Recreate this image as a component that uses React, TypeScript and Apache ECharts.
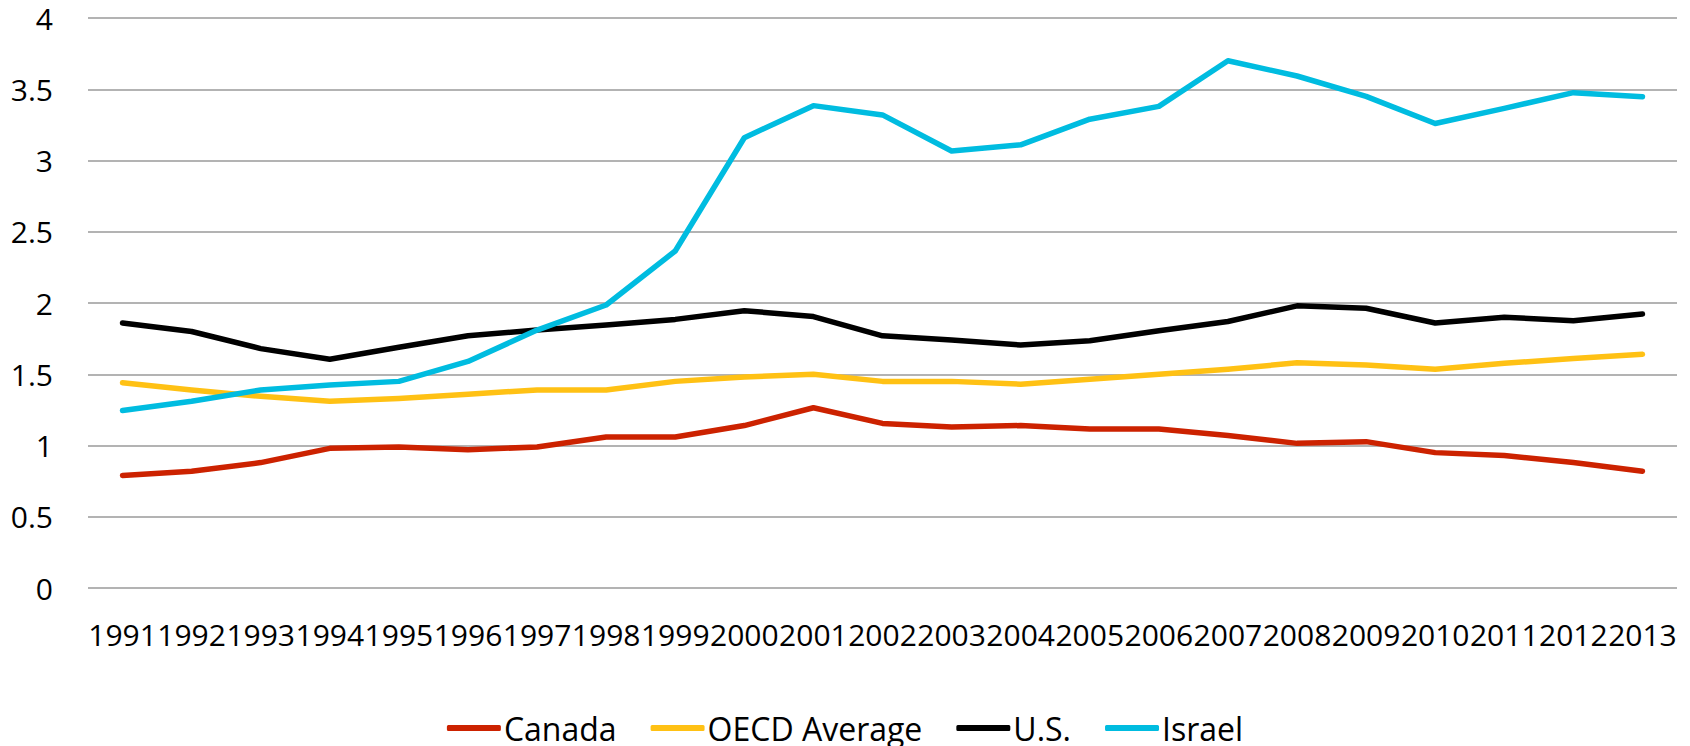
import React, { useEffect, useRef } from "react";
import * as echarts from "echarts";

const years = ["1991","1992","1993","1994","1995","1996","1997","1998","1999","2000","2001","2002","2003","2004","2005","2006","2007","2008","2009","2010","2011","2012","2013"];
const canada = [0.79,0.82,0.88,0.98,0.99,0.97,0.99,1.06,1.06,1.14,1.265,1.155,1.13,1.14,1.115,1.115,1.07,1.015,1.027,0.95,0.93,0.88,0.82];
const oecd = [1.44,1.39,1.345,1.31,1.33,1.36,1.39,1.39,1.45,1.48,1.5,1.45,1.45,1.43,1.465,1.5,1.535,1.58,1.565,1.535,1.577,1.61,1.64];
const us = [1.86,1.8,1.68,1.605,1.69,1.77,1.81,1.845,1.885,1.946,1.905,1.77,1.74,1.705,1.735,1.805,1.87,1.98,1.963,1.86,1.9,1.876,1.923];
const israel = [1.245,1.31,1.39,1.425,1.45,1.59,1.81,1.986,2.365,3.16,3.385,3.32,3.067,3.11,3.29,3.38,3.7,3.593,3.45,3.26,3.366,3.476,3.448];
const seriesNames = ["Canada", "OECD Average", "U.S.", "Israel"];
const colors = ["#cc2200", "#ffc114", "#000000", "#00bce0"];

export default function App() {
  const ref = useRef<HTMLDivElement>(null);
  useEffect(() => {
    if (!ref.current) return;
    const chart = echarts.init(ref.current, null, { renderer: "svg" });
    const font = "'Open Sans', sans-serif";
    const data = [canada, oecd, us, israel];
    chart.setOption({
      animation: false,
      color: colors,
      textStyle: { fontFamily: font },
      grid: { left: 88, right: 13, top: 18, bottom: 158 },
      legend: {
        data: seriesNames,
        left: "center",
        top: 707,
        icon: "roundRect",
        itemWidth: 54,
        itemHeight: 6,
        itemGap: 34,
        textStyle: { fontSize: 32, color: "#000", fontFamily: font, padding: [0, 0, 0, -2] },
      },
      xAxis: {
        type: "category",
        data: years,
        boundaryGap: true,
        axisLine: { show: false },
        axisTick: { show: false },
        axisLabel: { fontSize: 30, color: "#000", margin: 31, interval: 0, fontFamily: font },
      },
      yAxis: {
        type: "value",
        min: 0,
        max: 4,
        interval: 0.5,
        axisLine: { show: false },
        axisTick: { show: false },
        axisLabel: { fontSize: 30, color: "#000", margin: 35, fontFamily: font },
        splitLine: { lineStyle: { color: "#9a9a9a", width: 1.5 } },
      },
      series: seriesNames.map((name, i) => ({
        name,
        type: "line",
        data: data[i],
        symbol: "none",
        lineStyle: { width: 5.5, color: colors[i], cap: "round", join: "round" },
        itemStyle: { color: colors[i] },
      })),
    });
    return () => chart.dispose();
  }, []);
  return <div ref={ref} style={{ width: 1690, height: 746, marginLeft: -8, marginTop: -8 }} />;
}
